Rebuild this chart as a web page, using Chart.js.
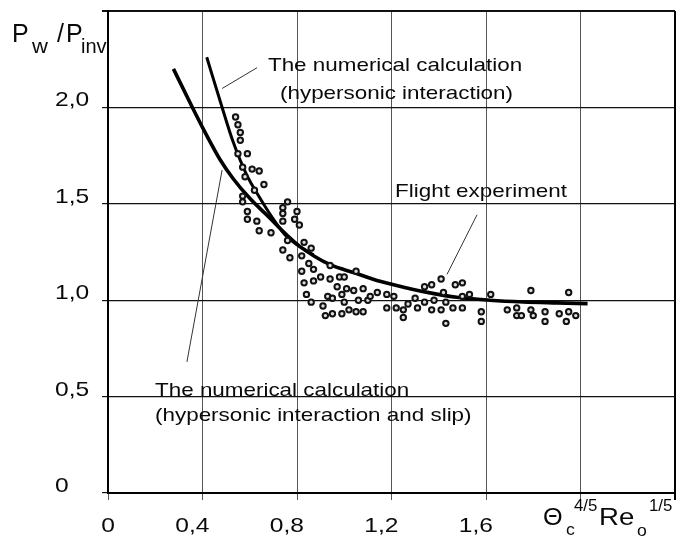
<!DOCTYPE html>
<html>
<head>
<meta charset="utf-8">
<script src="https://cdn.jsdelivr.net/npm/chart.js@4.4.0/dist/chart.umd.min.js"></script>
<style>
    body { margin: 0; background: #fff; }
    #wrap { width: 681px; height: 536px; }
</style>
</head>
<body>
<div id="wrap"><canvas id="pressureChart" width="681" height="536"></canvas></div>
<script>
// ticks
var xTickValues = [0, 0.4, 0.8, 1.2, 1.6];
var xTickLabels = ['0', '0,4', '0,8', '1,2', '1,6'];
var yTickValues = [0, 0.5, 1.0, 1.5, 2.0];
var yTickLabels = ['0', '0,5', '1,0', '1,5', '2,0'];

// The numerical calculation (hypersonic interaction)
var calcX = [0.418, 0.488, 0.53, 0.587, 0.643, 0.70, 0.756, 0.81, 0.87];
var calcY = [2.26, 1.98, 1.82, 1.65, 1.53, 1.42, 1.33, 1.28, 1.235];

// The numerical calculation (hypersonic interaction and slip)
var slipX = [0.277, 0.361, 0.411, 0.474, 0.53, 0.601, 0.672, 0.756, 0.813, 0.94, 1.046, 1.151, 1.278, 1.363, 1.476, 1.617, 1.758, 1.899, 2.03];
var slipY = [2.20, 1.99, 1.87, 1.73, 1.63, 1.527, 1.442, 1.339, 1.278, 1.184, 1.141, 1.098, 1.06, 1.038, 1.015, 1.0, 0.991, 0.986, 0.982];

// Flight experiment
var expX = [0.54, 0.55, 0.56, 0.56, 0.55, 0.59, 0.57, 0.61, 0.64, 0.58, 0.66, 0.62, 0.57, 0.57, 0.76, 0.59, 0.74, 0.59, 0.63, 0.80,
    0.74, 0.79, 0.81, 0.74, 0.64, 0.69, 0.76, 0.83, 0.86, 0.74, 0.77, 0.82, 0.85, 0.87, 0.82, 0.94, 0.90, 0.87, 0.83, 0.94,
    0.98, 1.00, 1.05, 0.97, 1.01, 1.04, 1.08, 0.99, 0.93, 0.95, 0.84, 0.86, 0.91, 1.00, 1.06, 1.10, 1.11, 1.14, 1.18, 1.21,
    1.18, 1.02, 1.22, 0.92, 0.95, 0.99, 1.05, 1.08, 1.25, 1.25, 1.27, 1.30, 1.31, 1.34, 1.34, 1.37, 1.37, 1.38, 1.41, 1.42,
    1.43, 1.41, 1.43, 1.46, 1.47, 1.50, 1.50, 1.50, 1.53, 1.58, 1.58, 1.62, 1.69, 1.73, 1.73, 1.75, 1.79, 1.79, 1.80, 1.85,
    1.85, 1.91, 1.95, 1.95, 1.94, 1.98];
var expY = [1.95, 1.91, 1.87, 1.83, 1.76, 1.76, 1.69, 1.68, 1.67, 1.64, 1.60, 1.57, 1.54, 1.51, 1.51, 1.46, 1.48, 1.42, 1.41, 1.46,
    1.45, 1.42, 1.39, 1.41, 1.36, 1.35, 1.31, 1.30, 1.27, 1.26, 1.22, 1.23, 1.19, 1.16, 1.15, 1.18, 1.12, 1.10, 1.09, 1.11,
    1.12, 1.12, 1.15, 1.07, 1.06, 1.05, 1.06, 1.03, 1.02, 1.01, 1.03, 0.99, 0.97, 0.99, 1.00, 1.00, 1.02, 1.04, 1.03, 1.02,
    0.96, 0.95, 0.96, 0.92, 0.93, 0.93, 0.94, 0.94, 0.95, 0.91, 0.98, 1.01, 0.96, 1.07, 0.99, 1.08, 0.95, 1.00, 1.11, 1.04,
    0.99, 0.95, 0.88, 0.96, 1.08, 0.96, 1.09, 1.02, 1.03, 0.94, 0.89, 1.03, 0.95, 0.96, 0.92, 0.92, 1.05, 0.95, 0.92, 0.94,
    0.89, 0.93, 0.94, 1.04, 0.89, 0.92];

// leader lines from the labels to the curves / points
var leaderTop = [[0.483, 2.098], [0.631, 2.206]];
var leaderFlight = [[1.562, 1.443], [1.435, 1.134]];
var leaderSlip = [[0.483, 1.675], [0.334, 0.680]];

function toPoints(xs, ys) {
    return xs.map(function(x, i) { return {x: x, y: ys[i]}; });
}
function pairPoints(arr) {
    return arr.map(function(p) { return {x: p[0], y: p[1]}; });
}

var FONT = '"Liberation Sans", Arial, sans-serif';

// draw text stretched sideways like the scanned original
function stretchText(ctx, text, x, y, size, sx, align) {
    ctx.save();
    ctx.font = size + 'px ' + FONT;
    ctx.translate(x, y);
    ctx.scale(sx, 1);
    ctx.textAlign = align || 'left';
    ctx.textBaseline = 'alphabetic';
    ctx.fillText(text, 0, 0);
    ctx.restore();
}

var labelsPlugin = {
    id: 'labels',
    afterDraw: function(chart) {
        var ctx = chart.ctx;
        var xs = chart.scales.x;
        var ys = chart.scales.y;
        var a = chart.chartArea;
        ctx.fillStyle = '#0a0a0a';

        // tick labels
        yTickValues.forEach(function(v, i) {
            stretchText(ctx, yTickLabels[i], a.left - 53, ys.getPixelForValue(v) - 1, 21, 1.17);
        });
        xTickValues.forEach(function(v, i) {
            stretchText(ctx, xTickLabels[i], xs.getPixelForValue(v) + 7, a.bottom + 39, 21, 1.17, 'right');
        });

        // axis titles
        stretchText(ctx, 'P', 12, 42, 25, 1);
        stretchText(ctx, 'w', 32, 53, 21, 1.05);
        stretchText(ctx, '/', 57, 42, 25, 1);
        stretchText(ctx, 'P', 66, 42, 25, 1);
        stretchText(ctx, 'inv', 81, 53, 20, 1);

        stretchText(ctx, '\u0398', a.right - 132, a.bottom + 32, 24, 1.05);
        stretchText(ctx, 'c', a.right - 109, a.bottom + 42, 16, 1.1);
        stretchText(ctx, '4/5', a.right - 101, a.bottom + 18, 16, 1.05);
        stretchText(ctx, 'Re', a.right - 76, a.bottom + 32, 24, 1.15);
        stretchText(ctx, 'o', a.right - 38, a.bottom + 43, 16, 1.1);
        stretchText(ctx, '1/5', a.right - 26, a.bottom + 18, 16, 1.05);

        // curve annotations
        stretchText(ctx, 'The numerical calculation', xs.getPixelForValue(0.677), ys.getPixelForValue(2.191), 19, 1.18);
        stretchText(ctx, '(hypersonic interaction)', xs.getPixelForValue(0.728), ys.getPixelForValue(2.046), 19, 1.18);
        stretchText(ctx, 'Flight experiment', xs.getPixelForValue(1.215), ys.getPixelForValue(1.536), 19, 1.18);
        stretchText(ctx, 'The numerical calculation', xs.getPixelForValue(0.199), ys.getPixelForValue(0.505), 19, 1.18);
        stretchText(ctx, '(hypersonic interaction and slip)', xs.getPixelForValue(0.199), ys.getPixelForValue(0.376), 19, 1.18);
    }
};

var pressureCtx = document.getElementById('pressureChart').getContext('2d');
var pressureChart = new Chart(pressureCtx, {
    type: 'scatter',
    data: {
        datasets: [{
            label: 'Flight experiment',
            data: toPoints(expX, expY),
            pointStyle: 'circle',
            pointRadius: 2.7,
            pointBorderWidth: 2,
            borderColor: '#111',
            backgroundColor: '#ddd'
        }, {
            label: 'The numerical calculation (hypersonic interaction)',
            data: toPoints(calcX, calcY),
            showLine: true,
            borderColor: '#000',
            borderWidth: 3,
            pointRadius: 0,
            cubicInterpolationMode: 'monotone'
        }, {
            label: 'The numerical calculation (hypersonic interaction and slip)',
            data: toPoints(slipX, slipY),
            showLine: true,
            borderColor: '#000',
            borderWidth: 3.6,
            pointRadius: 0,
            cubicInterpolationMode: 'monotone'
        }, {
            data: pairPoints(leaderTop),
            showLine: true, borderColor: '#333', borderWidth: 1, pointRadius: 0
        }, {
            data: pairPoints(leaderFlight),
            showLine: true, borderColor: '#333', borderWidth: 1, pointRadius: 0
        }, {
            data: pairPoints(leaderSlip),
            showLine: true, borderColor: '#333', borderWidth: 1, pointRadius: 0
        }]
    },
    options: {
        responsive: false,
        maintainAspectRatio: false,
        animation: false,
        layout: {
            padding: {left: 102, top: 11, right: 6, bottom: 36}
        },
        scales: {
            x: {
                type: 'linear',
                min: 0,
                max: 2.4,
                ticks: {stepSize: 0.4, display: false},
                grid: {
                    color: function(c) { return c.tick && c.tick.value >= 2.39 ? '#000' : '#555'; },
                    lineWidth: function(c) { return c.tick && c.tick.value >= 2.39 ? 2 : 1; },
                    tickLength: 7
                },
                border: {color: '#000', width: 2}
            },
            y: {
                type: 'linear',
                min: 0,
                max: 2.5,
                ticks: {stepSize: 0.5, display: false},
                grid: {
                    color: '#111',
                    lineWidth: function(c) { return c.tick && c.tick.value >= 2.49 ? 2 : 1.2; },
                    tickLength: 6
                },
                border: {color: '#000', width: 2}
            }
        },
        plugins: {
            legend: {display: false},
            tooltip: {enabled: false}
        }
    },
    plugins: [labelsPlugin]
});
</script>
</body>
</html>
